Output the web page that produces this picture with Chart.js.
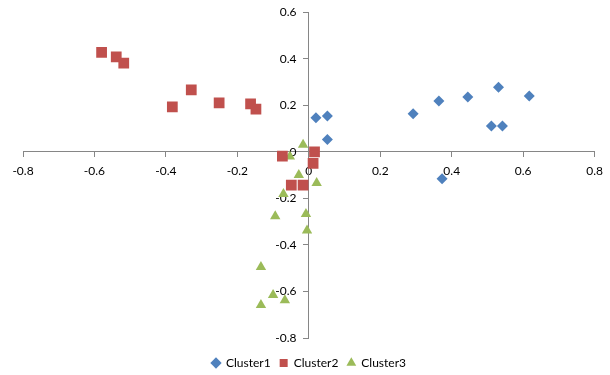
<!DOCTYPE html>
<html>
<head>
<meta charset="utf-8">
<script src="https://cdn.jsdelivr.net/npm/chart.js@4/dist/chart.umd.min.js"></script>
<style>
  html, body { margin: 0; padding: 0; background: #fff; }
  #wrap { width: 610px; height: 375px; }
</style>
</head>
<body>
<div id="wrap"><canvas id="chart"></canvas></div>
<script>
// Points, x and y per cluster.
const cluster1X = [0.02, 0.052, 0.052, 0.292, 0.364, 0.445, 0.531, 0.511, 0.542, 0.617, 0.373];
const cluster1Y = [0.146, 0.154, 0.053, 0.164, 0.218, 0.236, 0.278, 0.111, 0.111, 0.240, -0.116];

const cluster2X = [-0.580, -0.539, -0.518, -0.329, -0.382, -0.251, -0.163, -0.148, -0.074, 0.016, 0.012, -0.049, -0.016];
const cluster2Y = [0.427, 0.408, 0.381, 0.266, 0.193, 0.210, 0.206, 0.184, -0.018, 0.0, -0.05, -0.143, -0.143];

const cluster3X = [-0.016, -0.053, -0.028, 0.022, -0.071, -0.094, -0.008, -0.005, -0.134, -0.100, -0.067, -0.134];
const cluster3Y = [0.03, -0.02, -0.10, -0.134, -0.181, -0.277, -0.267, -0.338, -0.495, -0.615, -0.638, -0.658];

const seriesNames = ['Cluster1', 'Cluster2', 'Cluster3'];
const xTicks = [-0.8, -0.6, -0.4, -0.2, 0, 0.2, 0.4, 0.6, 0.8];
const yTicks = [-0.8, -0.6, -0.4, -0.2, 0, 0.2, 0.4, 0.6];

const toPoints = (xs, ys) => xs.map((x, i) => ({ x: x, y: ys[i] }));

const axisGrey = '#868686';
const font = { family: 'Lato', size: 12 };

const data = {
  datasets: [
    {
      label: seriesNames[0],
      data: toPoints(cluster1X, cluster1Y),
      pointStyle: 'rectRot',
      pointRadius: 5.5,
      backgroundColor: '#4F81BD',
      borderColor: '#4F81BD',
      borderWidth: 0,
    },
    {
      label: seriesNames[1],
      data: toPoints(cluster2X, cluster2Y),
      pointStyle: 'rect',
      pointRadius: 7.6,
      backgroundColor: '#C0504D',
      borderColor: '#C0504D',
      borderWidth: 0,
    },
    {
      label: seriesNames[2],
      data: toPoints(cluster3X, cluster3Y),
      pointStyle: 'triangle',
      pointRadius: 6,
      backgroundColor: '#9BBB59',
      borderColor: '#9BBB59',
      borderWidth: 0,
    },
  ],
};

const fmt = (v) => (Math.abs(v) < 1e-9 ? '0' : String(Math.round(v * 10) / 10));

// y labels are right-aligned on the axis line itself, so pad them off it
const fmtY = (v) => fmt(v) + '    ';

const chart = new Chart(document.getElementById('chart'), {
  type: 'scatter',
  data: data,
  options: {
    responsive: true,
    maintainAspectRatio: false,
    animation: false,
    layout: { padding: { left: 23, right: 15, top: 11, bottom: -4 } },
    scales: {
      x: {
        type: 'linear',
        min: -0.8,
        max: 0.8,
        position: { y: 0 },
        afterFit: (s) => { s.height = 0; },
        afterBuildTicks: (s) => { s.ticks = xTicks.map((v) => ({ value: v })); },
        ticks: { font: font, color: '#000', padding: 7, maxRotation: 0, callback: fmt },
        grid: { drawOnChartArea: false, drawTicks: true, tickLength: 5, color: axisGrey },
        border: { color: axisGrey },
      },
      y: {
        type: 'linear',
        min: -0.8,
        max: 0.6,
        position: { x: 0 },
        afterFit: (s) => { s.width = 0; },
        afterBuildTicks: (s) => { s.ticks = yTicks.map((v) => ({ value: v })); },
        ticks: { font: font, color: '#000', padding: 5, callback: fmtY },
        grid: { drawOnChartArea: false, drawTicks: true, tickLength: 5, color: axisGrey },
        border: { color: axisGrey },
      },
    },
    plugins: {
      legend: {
        position: 'bottom',
        // empty title only used as a spacer above the legend row
        title: { display: true, text: '', font: { size: 1, lineHeight: 1 }, padding: { top: 9, bottom: 0 } },
        labels: {
          usePointStyle: true,
          boxWidth: 8,
          boxHeight: 8,
          padding: 9,
          color: '#000',
          font: font,
        },
      },
      tooltip: { enabled: false },
    },
  },
});
</script>
</body>
</html>
